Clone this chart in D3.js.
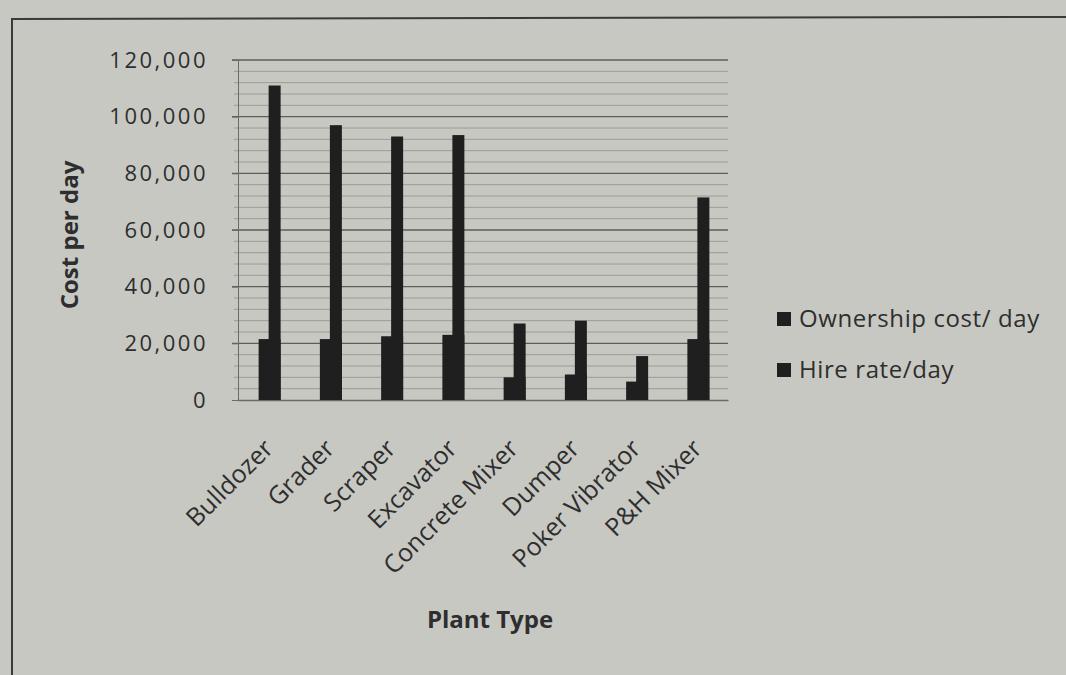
<!DOCTYPE html>
<html>
<head>
<script src="https://cdn.jsdelivr.net/npm/d3@7"></script>
<style>
  body { margin: 0; background: #c8c8c3; }
  svg { display: block; font-family: "Open Sans", sans-serif; }
</style>
</head>
<body>
<svg width="1066" height="675"></svg>
<script>
const plants = ["Bulldozer", "Grader", "Scraper", "Excavator", "Concrete Mixer", "Dumper", "Poker Vibrator", "P&H Mixer"];
const ownership = [21500, 21500, 22500, 23000, 8000, 9000, 6500, 21500];
const hire = [111000, 97000, 93000, 93500, 27000, 28000, 15500, 71500];
const yTicks = [0, 20000, 40000, 60000, 80000, 100000, 120000];
const seriesNames = ["Ownership cost/ day", "Hire rate/day"];

const svg = d3.select("svg");
const ink = "#2e2e2e";
const font = "'Open Sans', sans-serif";

// paper frame
svg.append("path")
    .attr("d", "M12,675 L12,19 L1066,17")
    .attr("fill", "none")
    .attr("stroke", "#3a3a3a")
    .attr("stroke-width", 2);

const plotL = 238, plotR = 728, plotT = 60, plotB = 400;

const x = d3.scaleBand().domain(plants).range([plotL, plotR]).paddingInner(0).paddingOuter(0);
const y = d3.scaleLinear().domain([0, 120000]).range([plotB, plotT]);
const minorTicks = d3.range(4000, 120001, 4000).filter(v => v % 20000 !== 0);

// minor gridlines
svg.append("g").selectAll("line")
    .data(minorTicks)
    .join("line")
    .attr("x1", plotL - 4).attr("x2", plotR)
    .attr("y1", d => y(d)).attr("y2", d => y(d))
    .attr("stroke", "#8f8f8b").attr("stroke-width", 0.8);

// major gridlines
svg.append("g").selectAll("line")
    .data(yTicks.slice(1))
    .join("line")
    .attr("x1", plotL - 6).attr("x2", plotR)
    .attr("y1", d => y(d)).attr("y2", d => y(d))
    .attr("stroke", "#5e5e5a").attr("stroke-width", 1.3);

// y axis
const yAxis = svg.append("g")
    .attr("transform", `translate(${plotL},0)`)
    .call(d3.axisLeft(y).tickValues(yTicks).tickFormat(d3.format(",")).tickSize(6).tickPadding(24));
yAxis.attr("font-family", font);
yAxis.select(".domain").attr("stroke", "#6a6a66");
yAxis.selectAll(".tick line").attr("stroke", "#6a6a66");
yAxis.selectAll("text").attr("fill", ink).attr("font-size", 22).attr("letter-spacing", 2.5);

// x axis
const xAxis = svg.append("g")
    .attr("transform", `translate(0,${plotB})`)
    .call(d3.axisBottom(x).tickSize(0).tickPadding(0));
xAxis.attr("font-family", font);
xAxis.select(".domain").attr("stroke", "#6a6a66").attr("stroke-width", 1.3);
xAxis.selectAll("text")
    .attr("fill", ink)
    .attr("font-size", 25)
    .attr("text-anchor", "end")
    .attr("dy", 0)
    .attr("transform", "translate(6,50) rotate(-45)");

// bars
const wOwn = 22, wHire = 12;
svg.append("g").selectAll("rect")
    .data(plants)
    .join("rect")
    .attr("x", d => x(d) + x.bandwidth() / 2 - 10)
    .attr("width", wOwn)
    .attr("y", (d, i) => y(ownership[i]))
    .attr("height", (d, i) => y(0) - y(ownership[i]))
    .attr("fill", "#1f1f1f");

svg.append("g").selectAll("rect")
    .data(plants)
    .join("rect")
    .attr("x", d => x(d) + x.bandwidth() / 2 - 10 + wOwn - wHire)
    .attr("width", wHire)
    .attr("y", (d, i) => y(hire[i]))
    .attr("height", (d, i) => y(0) - y(hire[i]))
    .attr("fill", "#1f1f1f");

// axis titles
svg.append("text")
    .attr("transform", "translate(78,235) rotate(-90)")
    .attr("text-anchor", "middle")
    .attr("font-size", 24).attr("font-weight", "bold")
    .attr("fill", ink)
    .text("Cost per day");

svg.append("text")
    .attr("x", 490).attr("y", 628)
    .attr("text-anchor", "middle")
    .attr("font-size", 24).attr("font-weight", "bold")
    .attr("fill", ink)
    .text("Plant Type");

// legend
const lg = svg.append("g").selectAll("g")
    .data(seriesNames)
    .join("g")
    .attr("transform", (d, i) => `translate(777,${327 + i * 51})`);
lg.append("rect").attr("x", 0).attr("y", -15).attr("width", 14).attr("height", 14).attr("fill", "#1f1f1f");
lg.append("text")
    .attr("x", 22).attr("y", 0)
    .attr("font-size", 24)
    .attr("letter-spacing", 0.6)
    .attr("fill", ink)
    .text(d => d);
</script>
</body>
</html>
